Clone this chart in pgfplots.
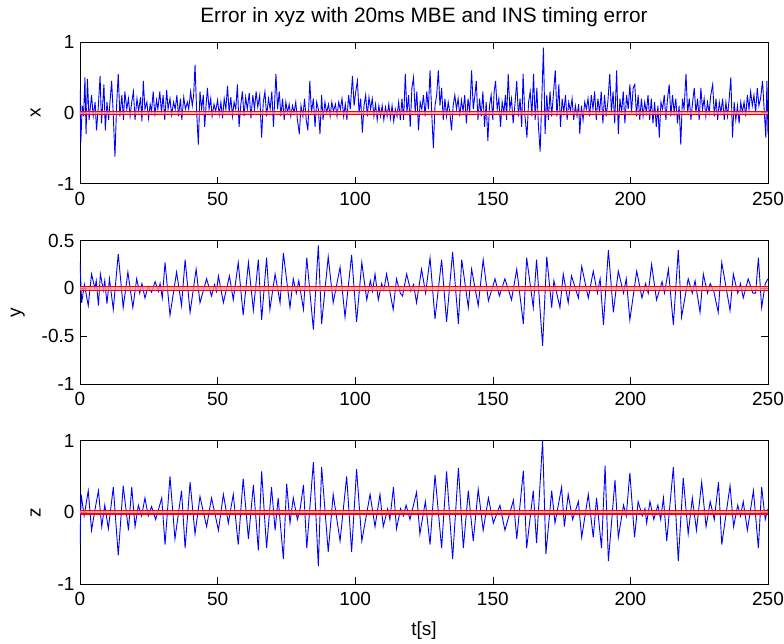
\documentclass[border=0pt]{standalone}
\usepackage{pgfplots}
\pgfplotsset{compat=1.18}
\usepackage{fontspec}
\setmainfont{Liberation Sans}
\newcommand{\tf}{\fontsize{19}{21}\selectfont}
\pgfplotsset{
 sub/.style={
  width=688pt, scale only axis, anchor=north west,
  xmin=0, xmax=250, xtick={0,50,...,250},
  tick align=inside, major tick length=7pt,
  tick style={black, line width=0.6pt},
  axis line style={black, line width=0.8pt},
  ticklabel style={font=\tf},
  /pgf/number format/assume math mode=true,
  label style={font=\tf},
  ylabel style={yshift=10pt},
  xticklabel style={yshift=-5pt},
  yticklabel style={xshift=-2pt},
 },
 sig/.style={blue, line width=0.9pt},
 band/.style={red, line width=1.3pt},
 bandfill/.style={fill=red!40, draw=none, fill opacity=0.8},
}
\begin{document}
\begin{tikzpicture}
\useasboundingbox (0,0) rectangle (784pt,-643pt);
% ---------------- x ----------------
\begin{axis}[sub, at={(80pt,-42pt)}, height=141.5pt,
  ymin=-1, ymax=1, ytick={-1,0,1}, ylabel={x},
  title={Error in xyz with 20ms MBE and INS timing error},
  title style={font=\fontsize{20.8}{22}\selectfont, at={(0.5,1)}, anchor=base, yshift=14pt}]
\addplot[sig] coordinates {
(0,0.33) (0.3,-0.42) (0.8,0.10) (1.3,-0.05) (1.8,0.50) (2.2,-0.30) (2.7,0.48) (3.3,-0.10) (4.2,0.25) (4.8,-0.05)
(5.5,0.15) (6.0,-0.25) (6.6,0.05) (7.3,0.52) (7.8,-0.15) (8.7,0.40) (9.2,-0.25) (9.8,0.15) (10.4,-0.10) (11.0,0.20)
(11.5,0.45) (12.0,0.05) (12.7,-0.62) (13.3,0.10) (13.9,0.55) (14.5,-0.05) (15.2,0.25) (15.8,-0.10) (16.3,0.30) (17.0,0.05)
(17.6,0.20) (18.2,-0.05) (18.8,0.15) (19.4,0.30) (20.0,-0.10) (20.7,0.20) (21.3,0.02) (22.0,0.22) (22.5,-0.12) (23.0,0.45)
(23.6,0.05) (24.3,0.15) (24.9,-0.08) (25.5,0.12) (26.0,0.02) (26.6,0.30) (27.2,-0.05) (27.8,0.18) (28.3,0.05) (29.0,0.30)
(29.6,0.00) (30.2,0.25) (30.8,-0.10) (31.5,0.32) (32.0,0.05) (32.7,0.20) (33.3,-0.03) (34.0,0.15) (34.6,0.05) (35.2,0.25)
(35.8,-0.05) (36.5,0.20) (37.0,-0.10) (37.7,0.22) (38.3,0.05) (39.0,0.15) (39.5,0.05) (40.2,0.30) (40.8,0.10) (41.3,0.25)
(41.8,0.68) (42.4,0.00) (43.0,-0.45) (43.6,0.30) (44.2,0.05) (44.8,0.25) (45.3,-0.20) (45.8,0.10) (46.3,0.35) (46.9,0.05)
(47.5,0.20) (48.0,-0.05) (48.7,0.12) (49.3,0.02) (50.0,0.18) (50.6,-0.03) (51.2,0.15) (51.8,-0.08) (52.4,0.20) (53.0,0.05)
(53.6,0.38) (54.2,0.00) (54.8,0.22) (55.4,-0.05) (56.0,0.15) (56.6,0.05) (57.2,0.40) (57.8,-0.20) (58.4,0.10) (59.0,0.30)
(59.6,-0.05) (60.2,0.22) (60.8,0.05) (61.5,0.28) (62.1,-0.08) (62.8,0.25) (63.4,0.05) (64.0,0.30) (64.6,0.08) (65.3,0.25)
(66.0,-0.35) (66.6,0.15) (67.2,0.30) (67.8,-0.05) (68.5,0.20) (69.1,0.05) (69.7,0.30) (70.3,-0.20) (71.2,0.55) (71.8,0.05)
(72.4,0.30) (73.0,-0.05) (73.6,0.20) (74.2,-0.10) (74.8,0.15) (75.4,0.00) (76.0,0.12) (76.6,-0.05) (77.2,0.10) (77.8,0.00)
(78.4,0.15) (79.0,-0.10) (79.7,-0.30) (80.3,0.10) (81.0,-0.05) (81.6,0.20) (82.2,-0.10) (82.8,-0.25) (83.5,0.45) (84.1,0.00)
(84.8,0.20) (85.4,-0.20) (86.0,0.15) (86.6,0.05) (87.2,-0.30) (87.8,0.25) (88.3,-0.10) (89.0,0.15) (89.6,0.00) (90.3,0.12)
(90.9,-0.05) (91.5,0.15) (92.1,0.02) (92.8,0.12) (93.4,-0.05) (94.0,0.15) (94.6,0.05) (95.2,0.20) (95.8,-0.05) (96.4,0.12)
(97.0,-0.10) (97.6,0.25) (98.2,0.05) (99.0,0.52) (99.6,0.10) (100.2,0.30) (100.8,0.45) (101.4,0.00) (102.0,0.20) (102.6,-0.28)
(103.2,0.10) (103.8,0.25) (104.4,-0.05) (105.0,0.22) (105.6,0.05) (106.2,0.20) (106.8,-0.05) (107.4,0.12) (108.0,-0.10) (108.6,0.10)
(109.2,-0.05) (109.8,0.10) (110.4,-0.10) (111.0,0.08) (111.6,-0.05) (112.2,0.12) (112.8,-0.08) (113.4,0.10) (114.0,-0.12) (114.6,0.05)
(115.2,-0.05) (115.8,0.15) (116.4,-0.10) (117.0,0.20) (117.6,-0.10) (118.2,0.55) (118.8,0.00) (119.4,0.25) (120.0,-0.20) (120.6,0.35)
(121.2,0.50) (121.8,0.00) (122.4,0.30) (123.0,-0.25) (123.6,0.15) (124.2,0.05) (124.8,0.25) (125.4,-0.05) (126.0,0.30) (126.6,0.05)
(127.2,0.60) (127.8,0.00) (128.4,-0.50) (129.0,0.10) (129.6,0.25) (130.2,0.60) (130.8,0.10) (131.4,0.35) (132.0,-0.10) (132.6,0.20)
(133.2,-0.05) (133.8,0.15) (134.4,0.00) (135.0,-0.25) (135.6,0.10) (136.2,0.25) (136.8,0.05) (137.4,0.20) (138.0,-0.05) (138.6,0.18)
(139.2,0.02) (139.8,0.25) (140.4,-0.15) (141.0,0.20) (141.6,0.00) (142.3,0.60) (142.9,0.05) (143.5,0.25) (144.0,0.45) (144.6,-0.10)
(145.2,0.20) (145.8,-0.05) (146.4,0.30) (147.0,-0.20) (147.6,0.15) (148.2,-0.40) (148.8,0.10) (149.4,0.25) (150.0,-0.10) (150.5,0.30)
(151.0,0.45) (151.6,0.05) (152.2,0.20) (152.8,-0.20) (153.4,0.15) (154.0,0.00) (154.6,0.25) (155.0,-0.10) (155.6,0.55) (156.2,0.05)
(156.8,0.20) (157.4,-0.15) (158.0,0.10) (158.7,0.45) (159.3,-0.05) (159.9,0.20) (160.5,-0.20) (161.0,0.55) (161.6,0.00) (162.4,-0.35)
(163.0,0.15) (163.6,0.30) (164.2,-0.05) (164.8,0.55) (165.4,-0.10) (166.0,0.35) (166.6,-0.20) (167.2,-0.55) (167.8,0.20) (168.4,0.92)
(169.0,-0.30) (169.6,0.25) (170.2,-0.10) (170.8,0.30) (171.4,-0.05) (172.0,0.25) (172.7,0.60) (173.3,-0.05) (174.0,0.40) (174.6,-0.20)
(175.2,0.20) (175.8,0.00) (176.4,0.25) (177.0,-0.10) (177.6,0.15) (178.2,0.02) (178.8,0.20) (179.4,-0.10) (180.0,0.10) (180.6,-0.05)
(181.2,0.12) (181.6,-0.30) (182.2,0.10) (182.8,-0.10) (183.4,0.15) (184.0,0.05) (184.6,0.20) (185.2,-0.05) (185.8,0.25) (186.4,0.05)
(187.0,0.30) (187.6,-0.10) (188.2,0.20) (188.8,0.00) (189.4,0.30) (190.0,-0.15) (190.6,0.25) (191.2,-0.05) (191.8,0.15) (192.5,0.55)
(193.1,0.00) (193.7,0.30) (194.3,-0.15) (195.0,0.60) (195.6,-0.30) (196.2,0.20) (196.8,0.00) (197.4,0.30) (198.0,-0.15) (198.6,0.25)
(199.2,0.05) (199.8,0.40) (200.4,0.00) (201.0,0.35) (201.6,0.40) (202.2,-0.05) (202.8,0.25) (203.4,-0.10) (204.0,0.20) (204.6,-0.05)
(205.2,0.15) (205.8,0.00) (206.4,0.25) (207.0,-0.10) (207.6,0.20) (208.2,-0.15) (208.8,0.15) (209.4,-0.20) (210.0,0.10) (210.5,-0.35)
(211.1,0.15) (211.7,0.05) (212.3,0.25) (212.9,-0.10) (213.5,0.20) (214.1,0.40) (214.7,-0.05) (215.3,0.25) (215.9,0.00) (216.5,0.20)
(217.1,-0.15) (217.7,0.10) (218.3,-0.45) (218.9,0.20) (219.5,0.05) (220.2,0.55) (220.8,0.00) (221.4,0.20) (222.0,-0.10) (222.6,0.15)
(223.2,0.35) (223.8,0.00) (224.4,0.20) (225.0,-0.10) (225.6,0.35) (226.2,0.05) (226.8,0.20) (227.4,-0.05) (228.0,0.15) (228.6,0.00)
(229.2,0.25) (229.9,0.40) (230.5,-0.05) (231.1,0.20) (231.7,-0.10) (232.3,0.15) (232.9,0.00) (233.5,0.20) (234.1,-0.10) (234.7,0.15)
(235.3,-0.05) (235.9,0.20) (236.5,0.50) (237.1,-0.35) (237.7,0.15) (238.3,-0.10) (238.9,0.10) (239.5,-0.15) (240.1,0.15) (240.7,0.00)
(241.3,0.15) (241.9,-0.05) (242.5,0.25) (243.1,0.05) (243.7,0.30) (244.3,0.10) (244.9,0.25) (245.5,0.00) (246.1,0.35) (246.7,0.10)
(247.3,0.20) (248.0,0.45) (248.6,0.05) (249.2,-0.35) (249.6,0.45) (250,-0.30)
};
\addplot[bandfill] coordinates {(0,-0.02) (250,-0.02) (250,0.02) (0,0.02)} -- cycle;
\addplot[band] coordinates {(0,0.02) (250,0.02)};
\addplot[band] coordinates {(0,-0.02) (250,-0.02)};
\end{axis}
% ---------------- y ----------------
\begin{axis}[sub, at={(80pt,-240.5pt)}, height=143.6pt,
  ymin=-1, ymax=0.5, ytick={-1,-0.5,0,0.5}, ylabel={y}]
\addplot[sig] coordinates {
(0,0.27) (0.6,-0.15) (1.6,0.04) (3.0,-0.18) (4.2,0.15) (5.4,0.00) (5.9,0.08) (6.7,-0.18) (7.4,0.15) (8.5,-0.02)
(9.0,0.08) (9.8,-0.16) (10.7,0.10) (12.1,-0.22) (13.9,0.36) (15.7,-0.20) (17.4,0.17) (19.2,-0.20) (20.6,0.10) (21.7,-0.05)
(22.5,0.05) (23.6,-0.10) (24.8,0.02) (26.0,-0.04) (27.3,0.07) (28.5,-0.03) (29.1,0.05) (29.9,-0.10) (30.9,0.27) (32.7,-0.28)
(35.1,0.17) (36.9,-0.18) (38.2,0.30) (40.0,-0.25) (42.2,0.20) (43.6,-0.15) (46.0,0.10) (47.8,-0.08) (48.9,0.04) (49.6,-0.03)
(50.3,0.13) (52.1,-0.15) (54.3,0.13) (55.7,-0.12) (57.5,0.27) (59.3,-0.28) (61.2,0.27) (63.0,-0.23) (64.8,0.30) (66.0,-0.33)
(67.8,0.32) (69.0,-0.22) (70.9,0.15) (72.7,-0.15) (73.9,0.37) (76.3,-0.20) (77.5,0.10) (78.6,-0.05) (79.5,0.08) (81.2,-0.22)
(82.4,0.32) (84.8,-0.43) (86.6,0.45) (87.8,-0.37) (90.2,0.33) (92.0,-0.15) (94.5,0.22) (96.3,-0.30) (98.7,0.35) (100.5,-0.35)
(102.4,0.27) (104.2,-0.12) (105.5,0.08) (106.3,-0.03) (107.2,0.15) (108.4,-0.12) (109.6,0.05) (110.4,-0.02) (111.4,0.15) (113.8,-0.22)
(115.0,0.10) (116.4,-0.05) (117.2,-0.08) (118.7,0.15) (120.2,-0.03) (121.2,0.04) (122.3,-0.15) (124.1,0.20) (125.6,-0.05) (127.2,0.32)
(129.0,-0.32) (131.4,0.30) (133.2,-0.35) (135.4,0.38) (137.5,-0.37) (138.7,0.30) (141.1,-0.20) (142.3,0.20) (144.7,-0.18) (146.5,0.30)
(148.4,-0.13) (150.8,0.10) (152.4,-0.08) (154.4,0.10) (156.8,-0.12) (158.7,0.20) (161.1,-0.37) (162.3,0.32) (164.7,-0.20) (165.9,0.30)
(168.1,-0.60) (169.6,0.33) (171.4,-0.20) (172.2,0.08) (174.4,-0.20) (175.6,0.15) (177.4,-0.15) (178.6,0.13) (181.1,-0.10) (182.3,0.23)
(184.7,-0.10) (186.5,0.18) (188.0,-0.05) (189.0,0.10) (190.2,-0.38) (192.0,0.40) (193.8,-0.25) (195.6,0.18) (197.5,-0.05) (198.5,0.10)
(199.8,-0.33) (202.3,0.18) (204.2,-0.10) (205.5,0.05) (206.5,-0.05) (207.7,0.25) (209.5,-0.12) (211.5,0.07) (212.4,-0.05) (213.8,0.20)
(215.6,-0.38) (217.4,0.40) (218.6,-0.30) (221.0,0.10) (222.5,-0.05) (223.5,0.08) (225.3,-0.25) (226.5,0.15) (228.0,-0.05) (229.0,0.05)
(230.3,-0.03) (231.9,-0.25) (233.2,0.27) (236.2,-0.23) (237.4,0.15) (239.0,-0.05) (240.0,0.05) (241.0,-0.10) (242.8,0.10) (244.5,-0.05)
(245.5,-0.05) (246.5,0.32) (247.7,-0.20) (249.0,0.05) (250,0.10)
};
\addplot[bandfill] coordinates {(0,-0.02) (250,-0.02) (250,0.02) (0,0.02)} -- cycle;
\addplot[band] coordinates {(0,0.02) (250,0.02)};
\addplot[band] coordinates {(0,-0.02) (250,-0.02)};
\end{axis}
% ---------------- z ----------------
\begin{axis}[sub, at={(80pt,-440.5pt)}, height=143.6pt,
  ymin=-1, ymax=1, ytick={-1,0,1}, ylabel={z}, xlabel={t[s]},
  xlabel style={at={(axis description cs:0.5,0)}, anchor=base, yshift=-51pt}]
\addplot[sig] coordinates {
(0,-0.45) (0.4,0.25) (1.5,-0.05) (3.0,0.30) (4.2,-0.25) (5.5,0.05) (6.7,0.30) (7.9,-0.20) (9.0,0.10) (10.3,-0.23)
(12.1,0.35) (13.9,-0.60) (15.7,0.37) (17.6,-0.25) (18.8,0.35) (20.0,-0.20) (21.2,0.10) (22.4,-0.05) (23.6,0.20) (24.8,-0.05)
(26.0,0.08) (27.5,-0.10) (29.7,0.20) (30.9,-0.45) (32.7,0.50) (34.5,-0.37) (36.9,0.30) (38.2,-0.50) (40.0,0.42) (41.8,-0.30)
(43.6,0.22) (46.0,-0.20) (47.8,0.20) (50.3,-0.25) (52.1,0.25) (53.9,-0.15) (55.7,0.25) (57.5,-0.45) (59.3,0.47) (61.2,-0.37)
(63.0,0.38) (64.8,-0.53) (66.0,0.57) (67.8,-0.50) (69.6,0.35) (70.9,-0.25) (72.0,0.20) (73.9,-0.65) (75.1,0.40) (76.3,-0.15)
(77.5,0.20) (79.0,-0.10) (80.0,0.05) (81.2,0.38) (82.4,-0.50) (84.8,0.70) (86.6,-0.75) (87.8,0.63) (90.2,-0.55) (92.0,0.25)
(94.5,-0.40) (96.9,0.50) (98.7,-0.55) (100.5,0.60) (102.4,-0.40) (105.4,0.25) (107.2,-0.20) (109.0,0.25) (110.2,-0.20) (111.8,0.05)
(112.6,-0.10) (113.9,0.35) (115.0,-0.23) (116.5,0.05) (117.5,-0.05) (118.5,0.10) (119.9,-0.10) (122.3,0.28) (123.5,-0.30) (125.5,0.15)
(127.2,-0.45) (129.0,0.52) (131.4,-0.50) (133.2,0.57) (135.4,-0.65) (137.5,0.62) (139.3,-0.50) (141.1,0.30) (142.9,-0.40) (144.7,0.32)
(146.5,-0.25) (148.4,0.20) (150.2,-0.15) (152.6,0.10) (154.4,-0.25) (157.5,0.17) (158.7,-0.37) (161.1,0.58) (162.3,-0.50) (164.7,0.30)
(165.9,-0.43) (168.1,1.00) (169.3,-0.58) (171.4,0.30) (172.6,-0.15) (175.0,0.35) (176.0,-0.20) (177.4,0.25) (179.0,-0.10) (181.1,0.15)
(182.3,-0.35) (184.7,0.25) (186.5,-0.35) (187.7,0.20) (189.5,-0.50) (190.8,0.65) (192.0,-0.68) (194.4,0.45) (195.6,-0.35) (197.5,0.10)
(198.5,-0.05) (199.8,0.55) (201.5,-0.35) (202.8,0.15) (204.3,-0.05) (205.3,0.05) (205.9,-0.15) (207.1,0.15) (208.5,-0.10) (210.0,0.10)
(211.0,-0.10) (212.0,0.20) (213.2,-0.40) (215.6,0.63) (217.4,-0.68) (219.2,0.48) (221.0,-0.30) (222.5,0.20) (224.0,-0.25) (225.9,0.42)
(227.5,-0.20) (229.0,0.15) (230.5,-0.10) (232.0,0.42) (233.2,-0.45) (236.2,0.37) (237.5,-0.20) (239.0,0.10) (240.0,-0.05) (241.0,0.15)
(242.5,-0.25) (244.7,0.30) (246.5,-0.50) (247.7,0.35) (249.0,-0.10) (250,0.05)
};
\addplot[bandfill] coordinates {(0,-0.025) (250,-0.025) (250,0.025) (0,0.025)} -- cycle;
\addplot[band] coordinates {(0,0.025) (250,0.025)};
\addplot[band] coordinates {(0,-0.025) (250,-0.025)};
\end{axis}
\end{tikzpicture}
\end{document}
